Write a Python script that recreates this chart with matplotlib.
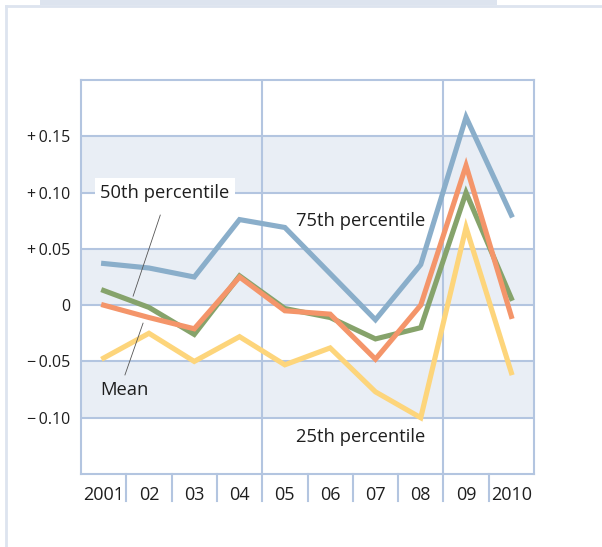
import matplotlib.pyplot as plt
from matplotlib.patches import Rectangle
from matplotlib.lines import Line2D

years = ["2001", "02", "03", "04", "05", "06", "07", "08", "09", "2010"]
p75 = [0.037, 0.033, 0.025, 0.076, 0.069, 0.028, -0.013, 0.036, 0.167, 0.080]
mean = [0.000, -0.011, -0.021, 0.025, -0.005, -0.008, -0.048, 0.000, 0.124, -0.010]
p50 = [0.013, -0.002, -0.026, 0.026, -0.003, -0.011, -0.030, -0.020, 0.100, 0.006]
p25 = [-0.047, -0.025, -0.050, -0.028, -0.053, -0.038, -0.077, -0.100, 0.069, -0.060]

yticks = [0.15, 0.10, 0.05, 0, -0.05, -0.10]
ytick_labels = ["+\u20090.15", "+\u20090.10", "+\u20090.05", "0", "\u2212\u20090.05", "\u2212\u20090.10"]
bands = [(0.10, 0.15), (0.0, 0.05), (-0.10, -0.05)]

GRID = "#b3c5e0"
BAND = "#e9eef5"
TEXT = "#1e1e1e"

plt.rcParams["font.family"] = ["Open Sans", "DejaVu Sans"]


def main():
    fig = plt.figure(figsize=(6.02, 5.47), dpi=100)

    # outer panel decorations
    fig.add_artist(Rectangle((40 / 602, 1 - 5 / 547), 457 / 602, 5 / 547,
                             transform=fig.transFigure, color="#dde4ef", lw=0))
    fig.add_artist(Line2D([5.5 / 602, 1], [1 - 6 / 547, 1 - 6 / 547],
                          transform=fig.transFigure, color="#dde4ef", lw=2))
    fig.add_artist(Line2D([6 / 602, 6 / 602], [0, 1 - 6 / 547],
                          transform=fig.transFigure, color="#dde4ef", lw=2))

    ax = fig.add_axes([81 / 602, 73 / 547, 453 / 602, 394 / 547])
    x = list(range(len(years)))

    ax.set_xlim(-0.5, len(years) - 0.5)
    ax.set_ylim(-0.15, 0.20)

    for lo, hi in bands:
        ax.axhspan(lo, hi, color=BAND, lw=0, zorder=0)
    for y in yticks:
        ax.axhline(y, color=GRID, lw=1.5, zorder=1)
    for xv in [3.5, 7.5]:
        ax.axvline(xv, color=GRID, lw=1.5, zorder=1)

    ax.plot(x, p25, color="#fdd57b", lw=3.7, zorder=3, solid_joinstyle="miter")
    ax.plot(x, p75, color="#8aaeca", lw=3.7, zorder=3, solid_joinstyle="miter")
    ax.plot(x, p50, color="#86a36b", lw=3.7, zorder=4, solid_joinstyle="miter")
    ax.plot(x, mean, color="#f4956a", lw=3.7, zorder=5, solid_joinstyle="miter")

    for s in ax.spines.values():
        s.set_color(GRID)
        s.set_linewidth(1.5)

    ax.set_yticks(yticks)
    ax.set_yticklabels(ytick_labels)
    ax.set_xticks(x)
    ax.set_xticklabels(years)
    ax.tick_params(axis="y", length=0, pad=8, labelsize=11.5, labelcolor=TEXT)
    ax.tick_params(axis="x", length=0, pad=9, labelsize=13, labelcolor=TEXT)

    # separators below the x axis
    for xv in [i + 0.5 for i in range(len(years) - 1)]:
        ax.plot([xv, xv], [-0.15, -0.174], color=GRID, lw=1.5, clip_on=False, zorder=1)

    # annotations
    ax.text(-0.08, 0.100, "50th percentile", fontsize=13.2, color=TEXT, va="center",
            ha="left", zorder=6,
            bbox=dict(facecolor="white", edgecolor="none", pad=4))
    ax.text(-0.08, -0.075, "Mean", fontsize=13.2, color=TEXT, va="center", ha="left", zorder=6)
    ax.text(4.25, 0.075, "75th percentile", fontsize=13.2, color=TEXT, va="center", ha="left", zorder=6)
    ax.text(4.25, -0.117, "25th percentile", fontsize=13.2, color=TEXT, va="center", ha="left", zorder=6)

    ax.plot([1.25, 0.65], [0.080, 0.008], color="#555555", lw=0.6, zorder=6)
    ax.plot([0.87, 0.47], [-0.016, -0.062], color="#555555", lw=0.6, zorder=6)

    fig.savefig("out.png", dpi=100)


if __name__ == "__main__":
    main()
